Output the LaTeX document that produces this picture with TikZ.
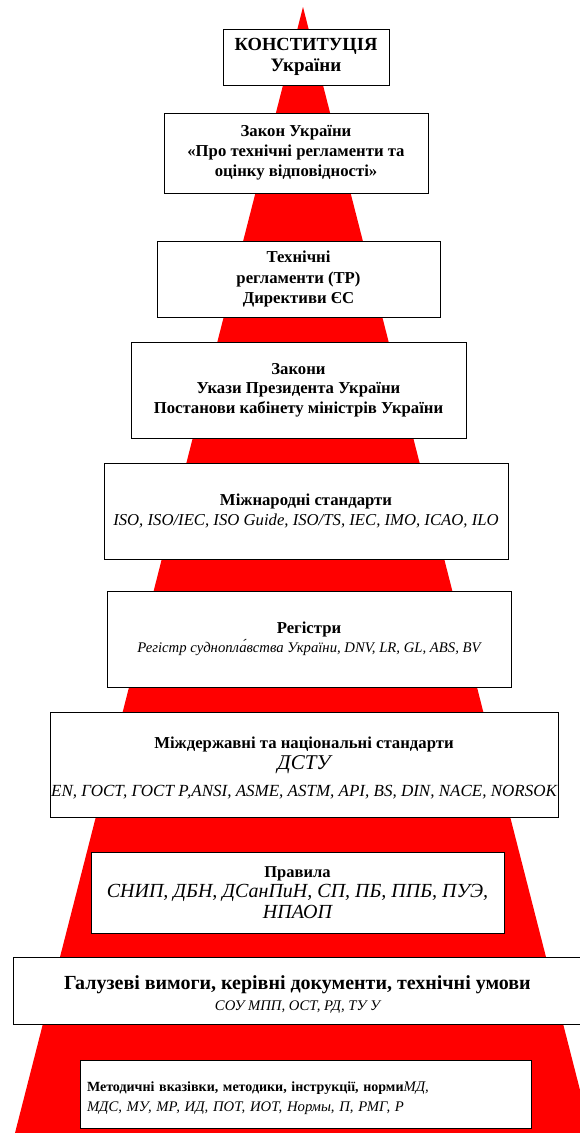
\documentclass[tikz,border=0pt]{standalone}
\usepackage{fontspec}
\setmainfont{Liberation Serif}
\newcommand\BFs[2]{\fontsize{#1}{#2}\selectfont\bfseries}
\newcommand\ITs[2]{\fontsize{#1}{#2}\selectfont\mdseries\itshape}
\begin{document}
\begin{tikzpicture}[x=1pt,y=-1pt,
  tier/.style={draw=black, line width=1pt, fill=white, inner sep=0pt, align=center, text=black},
  tiertext/.style={inner sep=0pt, align=center, text=black},
]
\useasboundingbox (0,0) rectangle (579,1133);
\fill[red] (303,7) -- (591,1133) -- (15,1133) -- cycle;
\node[tier, font=\BFs{18.5}{21}, minimum width=166pt, minimum height=56pt] (konst) at (306,57)
  {КОНСТИТУЦІЯ\\{\BFs{19}{21}України}};
\node[tier, font=\BFs{16.7}{20}, minimum width=264pt, minimum height=80pt] (zakon) at (296,153)
  {Закон України\\«Про технічні регламенти та\\оцінку відповідності»};
\node[tier, font=\BFs{16.7}{20.3}, minimum width=283pt, minimum height=76pt] (tech) at (298.5,279)
  {Технічні\\регламенти (ТР)\\Директиви ЄС};
\node[tier, font=\BFs{16.7}{19.5}, minimum width=335pt, minimum height=96pt] (zakony) at (298.5,390)
  {Закони\\Укази Президента України\\Постанови кабінету міністрів України};
\node[tier, font=\BFs{16.7}{20.6}, minimum width=404pt, minimum height=96pt] (mizhn) at (306,511)
  {Міжнародні стандарти\\{\ITs{16.7}{20.6}ISO, ISO/IEC, ISO Guide, ISO/TS, IEC, IMO, ICAO, ILO}};
\node[tier, font=\BFs{16.7}{18.6}, minimum width=404pt, minimum height=96pt] (reg) at (309,639)
  {Регістри\\{\ITs{14.7}{18.6}Регістр суднопла́вства України, DNV, LR, GL, ABS, BV}};
\node[tier, minimum width=508pt, minimum height=105pt] (mizhd) at (304,765) {};
\node[tiertext, font=\BFs{16.7}{21.5}, yshift=-3pt] (mizhdt) at (mizhd.center)
  {Міждержавні та національні стандарти\\{\ITs{21}{21.5}ДСТУ}\\[5pt]{\ITs{17}{21.5}EN, ГОСТ, ГОСТ Р,ANSI, ASME, ASTM, API, BS, DIN, NACE, NORSOK}};
\node[tier, font=\BFs{16.5}{20.5}, minimum width=413pt, minimum height=81pt] (prav) at (297.5,892.5)
  {Правила\\{\ITs{20}{20.5}СНИП, ДБН, ДСанПиН, СП, ПБ, ППБ, ПУЭ,}\\{\ITs{20}{20.5}НПАОП}};
\node[tier, minimum width=569pt, minimum height=67pt] (haluz) at (297.5,990.5) {};
\node[tiertext, font=\BFs{20}{21}, yshift=-4pt] (haluzt) at (haluz.center)
  {Галузеві вимоги, керівні документи, технічні умови\\{\ITs{14.7}{21}СОУ МПП, ОСТ, РД, ТУ У}};
\node[tier, minimum width=451pt, minimum height=68pt] (metod) at (305.5,1094) {};
\node[tiertext, font=\BFs{14}{20}, align=left, text width=437pt, yshift=-4pt] (metodt) at (metod.center)
  {Методичні вказівки, методики, інструкції, норми{\ITs{14.7}{20}МД,}\\{\ITs{14.7}{20}МДС, МУ, МР, ИД, ПОТ, ИОТ, Нормы, П, РМГ, Р}};
\end{tikzpicture}
\end{document}
